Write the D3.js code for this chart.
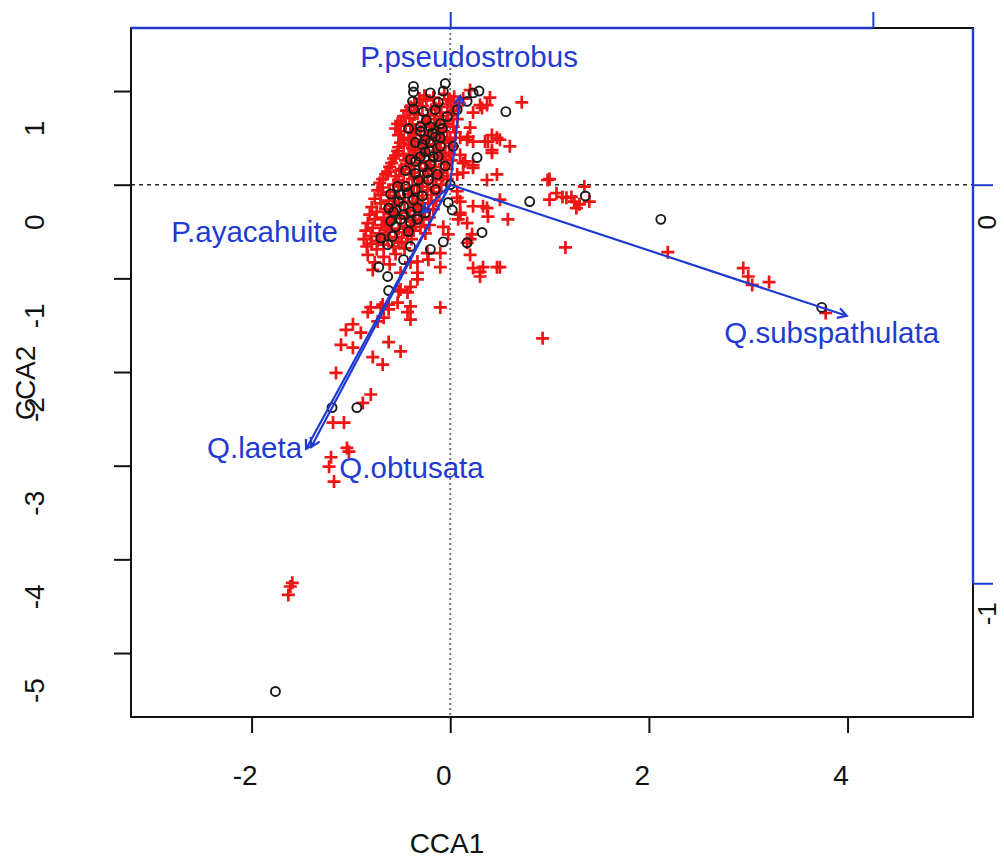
<!DOCTYPE html>
<html>
<head>
<meta charset="utf-8">
<script src="https://cdn.jsdelivr.net/npm/d3@7"></script>
<style>
  body { margin: 0; background: #fff; }
  svg { display: block; }
</style>
</head>
<body>
<div id="cca-plot"></div>
<script>
// species scores (red +), CCA1 / CCA2
var speciesScores = [
  // dense core
  [-0.26,0.95],[-0.06,0.97],[0.04,0.94],
  [-0.36,0.87],[-0.24,0.9],[-0.11,0.86],[0.01,0.89],[0.09,0.87],
  [-0.44,0.79],[-0.33,0.76],[-0.19,0.8],[-0.09,0.77],[0.04,0.79],
  [-0.5,0.68],[-0.41,0.71],[-0.27,0.67],[-0.16,0.7],[-0.02,0.68],[0.07,0.7],
  [-0.55,0.6],[-0.45,0.63],[-0.35,0.59],[-0.21,0.62],[-0.11,0.6],[0.03,0.62],
  [-0.52,0.53],[-0.42,0.5],[-0.37,0.54],[-0.25,0.51],[-0.13,0.53],[-0.03,0.5],
  [-0.5,0.45],[-0.41,0.42],[-0.29,0.46],[-0.17,0.43],[-0.05,0.45],
  [-0.53,0.36],[-0.47,0.33],[-0.37,0.37],[-0.27,0.34],[-0.13,0.36],[-0.01,0.34],
  [-0.57,0.28],[-0.45,0.26],[-0.35,0.29],[-0.21,0.25],[-0.09,0.28],[0.01,0.26],
  [-0.61,0.19],[-0.49,0.17],[-0.39,0.2],[-0.25,0.17],[-0.15,0.19],[-0.03,0.17],
  [-0.65,0.11],[-0.55,0.09],[-0.41,0.12],[-0.31,0.08],[-0.17,0.11],[-0.07,0.09],
  [-0.71,0.02],[-0.57,0.0],[-0.47,0.03],[-0.33,-0.01],[-0.23,0.02],[-0.09,0.0],
  [-0.73,-0.06],[-0.61,-0.08],[-0.47,-0.05],[-0.37,-0.09],[-0.23,-0.06],[-0.11,-0.08],
  [-0.76,-0.15],[-0.62,-0.17],[-0.52,-0.14],[-0.38,-0.18],[-0.28,-0.15],[-0.14,-0.17],
  [-0.79,-0.24],[-0.65,-0.26],[-0.55,-0.23],[-0.41,-0.27],[-0.31,-0.24],[-0.17,-0.26],
  [-0.81,-0.32],[-0.67,-0.35],[-0.57,-0.31],[-0.43,-0.34],[-0.31,-0.32],[-0.21,-0.35],
  [-0.83,-0.41],[-0.69,-0.43],[-0.59,-0.4],[-0.45,-0.44],[-0.35,-0.41],[-0.21,-0.43],
  [-0.85,-0.49],[-0.71,-0.52],[-0.61,-0.48],[-0.47,-0.51],[-0.37,-0.49],[-0.25,-0.52],
  [-0.87,-0.58],[-0.73,-0.6],[-0.63,-0.57],[-0.49,-0.61],[-0.39,-0.58],
  [-0.84,-0.66],[-0.74,-0.69],[-0.57,-0.66],[-0.46,-0.68],
  [-0.83,-0.75],[-0.67,-0.77],[-0.55,-0.74],
  [-0.76,-0.83],[-0.61,-0.85],
  [-0.31,0.92],[-0.17,0.93],[-0.02,0.91],
  [-0.4,0.83],[-0.28,0.84],[-0.15,0.82],[-0.03,0.83],[0.07,0.84],
  [-0.47,0.73],[-0.36,0.75],[-0.22,0.74],[-0.1,0.73],[0.02,0.75],
  [-0.53,0.65],[-0.38,0.64],[-0.25,0.66],[-0.13,0.64],[-0.04,0.65],
  [-0.5,0.57],[-0.4,0.56],[-0.3,0.57],[-0.18,0.55],[-0.07,0.57],[0.05,0.56],
  [-0.47,0.48],[-0.35,0.47],[-0.22,0.49],[-0.1,0.47],[0.0,0.48],
  [-0.52,0.4],[-0.38,0.39],[-0.23,0.41],[-0.1,0.39],[0.02,0.41],
  [-0.55,0.31],[-0.41,0.3],[-0.3,0.32],[-0.16,0.3],[-0.05,0.31],
  [-0.59,0.23],[-0.44,0.22],[-0.3,0.23],[-0.2,0.21],[-0.06,0.22],
  [-0.63,0.14],[-0.51,0.15],[-0.36,0.13],[-0.22,0.15],[-0.1,0.13],
  [-0.68,0.06],[-0.52,0.05],[-0.38,0.06],[-0.28,0.04],[-0.14,0.05],[-0.03,0.06],
  [-0.68,-0.03],[-0.52,-0.02],[-0.42,-0.04],[-0.28,-0.02],[-0.17,-0.03],
  [-0.7,-0.11],[-0.56,-0.12],[-0.42,-0.1],[-0.32,-0.12],[-0.19,-0.11],
  [-0.7,-0.2],[-0.58,-0.21],[-0.46,-0.19],[-0.34,-0.21],[-0.22,-0.2],
  [-0.74,-0.29],[-0.6,-0.28],[-0.5,-0.3],[-0.36,-0.28],[-0.26,-0.29],
  [-0.76,-0.37],[-0.62,-0.38],[-0.5,-0.36],[-0.38,-0.38],[-0.27,-0.37],
  [-0.78,-0.46],[-0.64,-0.45],[-0.52,-0.47],[-0.4,-0.46],[-0.3,-0.45],
  [-0.8,-0.55],[-0.66,-0.54],[-0.55,-0.56],[-0.43,-0.54],
  [-0.79,-0.63],[-0.67,-0.64],[-0.52,-0.62],
  // right of the core
  [0.72,0.88],[0.4,0.93],[0.3,0.85],[0.2,1.01],[0.13,0.92],[0.37,0.85],[0.32,0.82],
  [0.23,0.77],[0.2,0.61],[0.18,0.51],[0.23,0.46],[0.42,0.53],[0.38,0.46],[0.5,0.48],
  [0.6,0.41],[0.42,0.34],[0.1,0.5],[0.17,0.48],[0.35,0.46],[0.47,0.5],[0.42,0.37],
  [0.1,0.32],[0.13,0.23],[0.23,0.21],[0.23,0.18],[0.47,0.11],[0.37,0.05],[0.07,0.11],
  [0.15,0.25],[0.13,0.13],[0.98,0.05],[0.07,-0.07],[0.07,-0.14],[0.23,-0.23],
  [0.33,-0.23],[0.5,-0.16],[0.58,-0.37],[0.38,-0.34],[0.1,-0.32],[0.17,-0.41],
  [-0.07,-0.45],[-0.02,-0.53],[-0.1,-0.73],[0.22,-0.53],[0.17,-0.62],[0.2,-0.75],
  [0.23,-0.89],[0.3,-0.93],[0.47,-0.88],[0.33,-0.88],[0.3,-0.98],[-0.1,-0.88],
  [-0.23,-0.73],[-0.4,-0.83],[-0.33,-0.94],[-0.33,-1.01],[-0.43,-1.15],[-0.5,-0.94],
  [-0.78,-0.91],[-0.62,-1.28],[-0.1,-1.31],[-0.4,-1.3],[-0.8,-1.31],
  [0.37,-0.25],[0.08,-0.37],[0.1,-0.18],[0.1,-0.3],[0.2,-0.58],
  [-0.22,-0.8],[-0.33,-0.82],[-0.4,-1.09],[-0.5,-1.12],[-0.68,-1.28],[0.5,-0.88],
  // toward Q.subspathulata
  [1.0,-0.16],[1.07,-0.09],[1.13,-0.13],[1.22,-0.13],[1.25,-0.18],[1.27,-0.25],
  [1.35,-0.02],[1.4,-0.18],[1.3,-0.21],[1.17,-0.14],[1.0,0.06],[1.16,-0.67],
  [2.19,-0.72],[2.95,-0.89],[3.0,-0.98],[3.04,-1.07],[3.21,-1.04],[3.78,-1.37],
  [0.93,-1.64],
  // toward Q.laeta / Q.obtusata
  [-0.52,-1.14],[-0.83,-1.36],[-0.7,-1.31],[-0.62,-1.33],[-0.43,-1.36],[-0.4,-1.44],
  [-0.53,-1.26],[-0.73,-1.46],[-0.67,-1.42],[-1.05,-1.55],[-0.9,-1.58],[-0.98,-1.49],
  [-1.1,-1.71],[-0.98,-1.74],[-0.62,-1.68],[-0.5,-1.78],[-0.78,-1.84],[-0.68,-1.92],
  [-1.15,-2.01],[-0.8,-2.24],[-0.88,-2.33],[-1.18,-2.54],[-1.07,-2.54],
  [-1.02,-2.85],[-1.04,-2.81],[-1.2,-2.91],[-1.22,-3.01],[-1.17,-3.17],
  [-1.61,-4.29],[-1.63,-4.38],[-1.59,-4.25]
];

// site scores (black o)
var siteScores = [
  [-0.37,1.05],[-0.37,0.99],[-0.38,0.89],[-0.37,0.81],[-0.2,0.98],[-0.12,0.88],
  [-0.05,1.08],[-0.07,1.0],[0.07,0.8],[0.17,0.89],[0.23,0.98],[0.29,1.0],[0.56,0.78],
  [-0.24,0.69],[-0.03,0.73],[-0.25,0.48],[-0.15,0.51],[-0.1,0.41],[0.03,0.41],
  [-0.28,0.43],[-0.21,0.36],[-0.17,0.3],[-0.35,0.25],[-0.27,0.19],[-0.4,0.27],
  [-0.13,0.11],[-0.23,0.13],[0.27,0.29],[-0.53,-0.02],[-0.5,-0.11],[-0.43,-0.09],
  [-0.37,-0.16],[-0.52,-0.18],[-0.47,-0.23],[-0.4,-0.29],[-0.33,-0.25],[-0.57,-0.29],
  [-0.6,-0.39],[-0.5,-0.37],[-0.33,-0.37],[-0.02,-0.19],[0.02,-0.27],[-0.7,-0.57],
  [-0.63,-0.64],[-0.4,-0.66],[-0.2,-0.69],[-0.07,-0.61],[0.17,-0.62],[0.32,-0.51],
  [-0.72,-0.88],[-0.63,-0.98],[-0.62,-1.13],[0.8,-0.18],[-0.2,0.62],[-0.3,0.57],
  [1.36,-0.12],[2.12,-0.37],[3.74,-1.31],[-1.19,-2.38],[-0.94,-2.38],[-1.76,-5.41],
  [-0.47,-0.8],[0.0,0.0],
  [-0.3,0.62],[-0.18,0.55],[-0.08,0.6],[-0.25,0.35],[-0.12,0.3],[-0.05,0.2],
  [-0.32,0.05],[-0.45,-0.02],[-0.4,-0.4],[-0.55,-0.45],[-0.28,-0.12],[-0.6,-0.1],
  [-0.15,-0.05],
  [-0.42,0.6],[-0.35,0.45],[-0.2,0.45],[-0.3,0.3],[-0.2,0.22],[-0.35,0.12],
  [-0.45,0.15],[-0.1,0.65],[-0.27,0.78],[-0.15,0.8],[-0.47,-0.32],[-0.42,-0.5],
  [-0.58,-0.55],[-0.62,-0.25],[-0.35,-0.05],[-0.25,-0.3],[-0.1,0.5],[-0.22,0.05]
];

// biplot (constraining variables), unscaled scores
var biplotNames = ["P.pseudostrobus", "P.ayacahuite", "Q.laeta", "Q.obtusata", "Q.subspathulata"];
var biplotScores = [
  [0.024, 0.223],
  [-0.066, -0.070],
  [-0.341, -0.663],
  [-0.329, -0.658],
  [0.938, -0.329]
];
// where each name sits, in CCA units
var biplotLabelAt = [
  [0.19, 1.37],
  [-1.97, -0.50],
  [-1.97, -2.80],
  [-0.39, -3.02],
  [3.84, -1.58]
];
var arrowMul = 4.255;

var xTicks = [-2, 0, 2, 4];
var yTicks = [1, 0, -1, -2, -3, -4, -5];
var arrowTopTicks = [0, 1];
var arrowRightTicks = [0, -1];

drawCCA();

function drawCCA() {
  var width = 1004, height = 859;
  var left = 131, right = 973, top = 28, bottom = 717;
  var font = "'Liberation Sans', Arial, Helvetica, sans-serif";
  var blue = "#1f3bd1";
  var plain = function(d) { return String(d); };   // keep "-" hyphen like R

  var x = d3.scaleLinear().domain([-3.214, 5.263]).range([left, right]);
  var y = d3.scaleLinear().domain([1.673, -5.683]).range([top, bottom]);
  // arrow axes: same frame, shrunk by the multiplier
  var xa = d3.scaleLinear().domain(x.domain().map(function(d) { return d / arrowMul; })).range(x.range());
  var ya = d3.scaleLinear().domain(y.domain().map(function(d) { return d / arrowMul; })).range(y.range());

  var svg = d3.select('#cca-plot').append('svg')
    .attr('width', width).attr('height', height)
    .style('font-family', font);

  svg.append('rect').attr('width', width).attr('height', height).attr('fill', '#fff');

  svg.append('clipPath').attr('id', 'plotclip')
    .append('rect').attr('x', left).attr('y', top)
    .attr('width', right - left).attr('height', bottom - top);

  var plot = svg.append('g').attr('clip-path', 'url(#plotclip)');

  // zero lines
  plot.append('line')
    .attr('x1', left).attr('x2', right).attr('y1', y(0)).attr('y2', y(0))
    .attr('stroke', '#222').attr('stroke-width', 1.6).attr('stroke-dasharray', '4,4');
  plot.append('line')
    .attr('x1', x(0)).attr('x2', x(0)).attr('y1', top).attr('y2', bottom)
    .attr('stroke', '#666').attr('stroke-width', 1.8).attr('stroke-dasharray', '2,3');

  // species crosses
  var arm = 6.5;
  plot.append('g').selectAll('path')
    .data(speciesScores).enter().append('path')
    .attr('d', function(d) {
      var px = x(d[0]), py = y(d[1]);
      return 'M' + (px - arm) + ',' + py + 'H' + (px + arm) + 'M' + px + ',' + (py - arm) + 'V' + (py + arm);
    })
    .attr('stroke', '#f01414').attr('stroke-width', 2.7).attr('fill', 'none');

  // sites
  plot.append('g').selectAll('circle')
    .data(siteScores).enter().append('circle')
    .attr('cx', function(d) { return x(d[0]); })
    .attr('cy', function(d) { return y(d[1]); })
    .attr('r', 4.5)
    .attr('fill', 'none').attr('stroke', '#1a1a1a').attr('stroke-width', 1.9);

  // biplot arrows
  var head = 10;
  var arrows = plot.append('g');
  biplotScores.forEach(function(b) {
    var x0 = xa(0), y0 = ya(0), x1 = xa(b[0]), y1 = ya(b[1]);
    var a = Math.atan2(y1 - y0, x1 - x0);
    arrows.append('line')
      .attr('x1', x0).attr('y1', y0).attr('x2', x1).attr('y2', y1)
      .attr('stroke', blue).attr('stroke-width', 2.2);
    arrows.append('path')
      .attr('d', 'M' + (x1 - head * Math.cos(a - Math.PI / 6)) + ',' + (y1 - head * Math.sin(a - Math.PI / 6)) +
        'L' + x1 + ',' + y1 +
        'L' + (x1 - head * Math.cos(a + Math.PI / 6)) + ',' + (y1 - head * Math.sin(a + Math.PI / 6)))
      .attr('stroke', blue).attr('stroke-width', 2.2).attr('fill', 'none');
  });

  svg.append('g').selectAll('text')
    .data(biplotNames).enter().append('text')
    .attr('x', function(d, i) { return x(biplotLabelAt[i][0]); })
    .attr('y', function(d, i) { return y(biplotLabelAt[i][1]); })
    .attr('dy', '0.36em')
    .attr('text-anchor', 'middle')
    .attr('fill', blue)
    .style('font-size', '29.5px')
    .text(function(d) { return d; });

  // box
  svg.append('rect')
    .attr('x', left).attr('y', top).attr('width', right - left).attr('height', bottom - top)
    .attr('fill', 'none').attr('stroke', '#111').attr('stroke-width', 2);

  // bottom axis
  var gx = svg.append('g').attr('transform', 'translate(0,' + bottom + ')')
    .call(d3.axisBottom(x).tickValues(xTicks).tickSize(16).tickFormat(plain));
  gx.select('.domain').remove();
  gx.selectAll('line').attr('stroke', '#111').attr('stroke-width', 2);
  gx.selectAll('text')
    .attr('x', -7).attr('y', 68).attr('dy', null)
    .attr('fill', '#111').style('font-size', '28px').style('font-family', font);

  // left axis
  var gy = svg.append('g').attr('transform', 'translate(' + left + ',0)')
    .call(d3.axisLeft(y).tickValues(yTicks).tickSize(17).tickFormat(plain));
  gy.select('.domain').remove();
  gy.selectAll('line').attr('stroke', '#111').attr('stroke-width', 2);
  gy.selectAll('text')
    .attr('x', 0).attr('y', 0).attr('dy', null)
    .attr('text-anchor', 'middle')
    .attr('transform', 'translate(' + (44 - left) + ',37) rotate(-90)')
    .attr('fill', '#111').style('font-size', '28px').style('font-family', font);

  // top arrow axis (blue)
  var gt = svg.append('g').attr('transform', 'translate(0,' + top + ')')
    .call(d3.axisTop(xa).tickValues(arrowTopTicks).tickSize(16).tickFormat(''));
  gt.select('.domain').remove();
  gt.selectAll('line').attr('stroke', blue).attr('stroke-width', 2);
  gt.append('line')
    .attr('x1', left).attr('x2', xa(d3.max(arrowTopTicks))).attr('y1', 0).attr('y2', 0)
    .attr('stroke', blue).attr('stroke-width', 2.4);

  // right arrow axis (blue)
  var gr = svg.append('g').attr('transform', 'translate(' + right + ',0)')
    .call(d3.axisRight(ya).tickValues(arrowRightTicks).tickSize(20).tickFormat(plain));
  gr.select('.domain').remove();
  gr.selectAll('line').attr('stroke', blue).attr('stroke-width', 2);
  gr.selectAll('text')
    .attr('x', 0).attr('y', 0).attr('dy', null)
    .attr('text-anchor', 'middle')
    .attr('transform', function(d) {
      return 'translate(' + (996 - right) + ',' + (d === 0 ? 37 : 30) + ') rotate(-90)';
    })
    .attr('fill', '#111').style('font-size', '26px').style('font-family', font);
  gr.append('line')
    .attr('x1', 0).attr('x2', 0).attr('y1', top).attr('y2', ya(d3.min(arrowRightTicks)))
    .attr('stroke', blue).attr('stroke-width', 2.4);

  // axis titles
  svg.append('text')
    .attr('x', 447).attr('y', 853)
    .attr('text-anchor', 'middle').attr('fill', '#111')
    .style('font-size', '28px')
    .text('CCA1');
  svg.append('text')
    .attr('transform', 'translate(35,383) rotate(-90)')
    .attr('text-anchor', 'middle').attr('fill', '#111')
    .style('font-size', '28px')
    .text('CCA2');
}
</script>
</body>
</html>
